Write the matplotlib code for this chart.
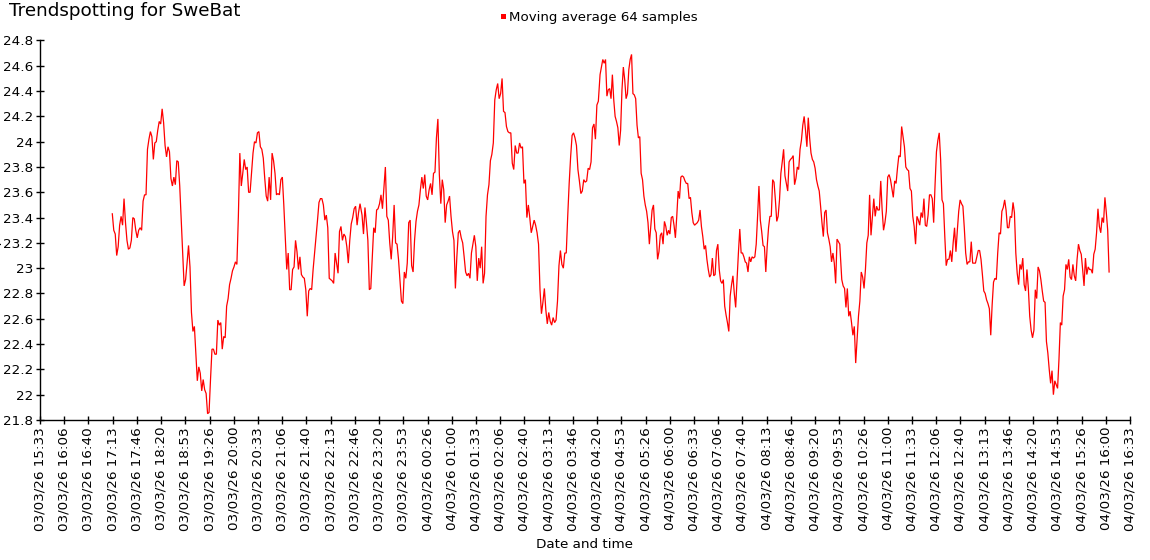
import numpy as np
import matplotlib
matplotlib.use("Agg")
import matplotlib.pyplot as plt
from matplotlib.patches import Rectangle
from matplotlib.ticker import FuncFormatter, MultipleLocator
from datetime import datetime, timedelta

# ---------------- data ----------------
title = "Trendspotting for SweBat"
series_name = "Moving average 64 samples"
x_label = "Date and time"
y_label = "Temperature"

axis_start = datetime(2026, 3, 3, 15, 33, 20)
tick_step_s = 2000
n_ticks = 46

# sample stretches (first sample time, last sample time), values evenly spaced in between
seg_a_times = ("2026-03-03 17:12:50", "2026-03-03 22:53:44")
seg_a_values = [
    23.43, 23.30, 23.27, 23.10, 23.17, 23.34, 23.41, 23.34, 23.55, 23.36, 23.22, 23.15, 23.16, 23.22,
    23.40, 23.39, 23.30, 23.24, 23.30, 23.32, 23.30, 23.53, 23.58, 23.58, 23.94, 24.02, 24.08, 24.04,
    23.86, 23.99, 24.00, 24.09, 24.16, 24.14, 24.26, 24.15, 23.97, 23.88, 23.96, 23.92, 23.71, 23.65,
    23.72, 23.66, 23.85, 23.84, 23.65, 23.38, 23.12, 22.86, 22.91, 23.04, 23.18, 23.01, 22.65, 22.50,
    22.54, 22.33, 22.11, 22.22, 22.17, 22.03, 22.12, 22.04, 22.01, 21.85, 21.86, 22.12, 22.36, 22.36,
    22.32, 22.32, 22.59, 22.55, 22.57, 22.36, 22.46, 22.45, 22.70, 22.76, 22.87, 22.92, 22.98, 23.01,
    23.05, 23.03, 23.41, 23.91, 23.65, 23.75, 23.86, 23.78, 23.80, 23.60, 23.60, 23.75, 23.91, 24.00,
    23.99, 24.07, 24.08, 23.96, 23.94, 23.87, 23.71, 23.57, 23.53, 23.72, 23.54, 23.91, 23.85, 23.75,
    23.58, 23.59, 23.58, 23.70, 23.72, 23.50, 23.25, 22.99, 23.12, 22.83, 22.83, 22.99, 23.01, 23.22,
    23.13, 22.99, 23.09, 22.95, 22.93, 22.92, 22.83, 22.62, 22.82, 22.84, 22.83, 22.99, 23.12, 23.25,
    23.38, 23.52, 23.55, 23.55, 23.50, 23.38, 23.42, 23.32, 22.92, 22.91, 22.90, 22.88, 23.12, 23.04,
    22.96, 23.29, 23.33, 23.22, 23.27, 23.25, 23.17, 23.04, 23.22, 23.35, 23.40, 23.47, 23.49, 23.34,
    23.44, 23.51,
]

seg_b_times = ("2026-03-03 22:56:30", "2026-03-04 04:21:42")
seg_b_values = [
    23.42, 23.27, 23.48, 23.36, 23.22, 22.83, 22.84, 23.08, 23.32, 23.28, 23.46, 23.47, 23.51, 23.58,
    23.47, 23.63, 23.80, 23.41, 23.38, 23.20, 23.07, 23.25, 23.50, 23.20, 23.19, 23.07, 22.91, 22.74,
    22.72, 22.97, 22.92, 23.04, 23.36, 23.38, 23.02, 22.97, 23.22, 23.37, 23.45, 23.50, 23.62, 23.72,
    23.63, 23.74, 23.57, 23.54, 23.62, 23.67, 23.58, 23.75, 23.76, 24.03, 24.18, 23.74, 23.51, 23.70,
    23.62, 23.36, 23.50, 23.53, 23.57, 23.41, 23.29, 23.22, 22.84, 23.09, 23.28, 23.30, 23.24, 23.20,
    23.09, 22.97, 22.94, 22.96, 22.92, 23.12, 23.19, 23.26, 23.17, 22.90, 23.08, 23.00, 23.17, 22.88,
    22.96, 23.41, 23.58, 23.66, 23.85, 23.90, 23.99, 24.33, 24.41, 24.46, 24.34, 24.38, 24.50, 24.24,
    24.23, 24.12, 24.08, 24.07, 24.07, 23.83, 23.78, 23.97, 23.91, 23.91, 23.99, 23.95, 23.96, 23.67,
    23.70, 23.40, 23.50, 23.40, 23.28, 23.33, 23.38, 23.34, 23.28, 23.19, 22.83, 22.64, 22.73, 22.84,
    22.67, 22.56, 22.65, 22.58, 22.55, 22.61, 22.57, 22.59, 22.74, 23.02, 23.14, 23.03, 23.00, 23.12,
    23.12, 23.41, 23.67, 23.88, 24.05, 24.07, 24.03, 23.97, 23.78, 23.69, 23.59, 23.61, 23.70, 23.68,
    23.69, 23.79, 23.78, 23.84, 24.11, 24.14, 24.02, 24.29, 24.32,
]

seg_c_times = ("2026-03-04 04:24:03", "2026-03-04 09:53:56")
seg_c_values = [
    24.53, 24.59, 24.65, 24.62, 24.65, 24.36, 24.41, 24.42, 24.34, 24.53, 24.33, 24.20, 24.16, 24.11,
    23.97, 24.09, 24.41, 24.59, 24.49, 24.34, 24.38, 24.57, 24.65, 24.69, 24.38, 24.37, 24.34, 24.13,
    24.03, 24.04, 23.75, 23.70, 23.57, 23.50, 23.45, 23.36, 23.19, 23.33, 23.46, 23.50, 23.31, 23.28,
    23.07, 23.13, 23.26, 23.28, 23.19, 23.37, 23.33, 23.26, 23.30, 23.27, 23.40, 23.41, 23.34, 23.24,
    23.41, 23.61, 23.55, 23.72, 23.73, 23.72, 23.69, 23.67, 23.67, 23.55, 23.56, 23.44, 23.36, 23.34,
    23.35, 23.36, 23.38, 23.46, 23.33, 23.25, 23.15, 23.18, 23.07, 22.99, 22.93, 22.95, 23.08, 22.94,
    22.95, 23.14, 23.19, 22.99, 22.90, 22.88, 22.91, 22.70, 22.63, 22.57, 22.50, 22.78, 22.87, 22.94,
    22.80, 22.69, 22.91, 23.12, 23.31, 23.12, 23.12, 23.09, 23.05, 23.04, 22.97, 23.09, 23.05, 23.09,
    23.08, 23.09, 23.19, 23.41, 23.65, 23.38, 23.29, 23.18, 23.17, 22.97, 23.17, 23.32, 23.41, 23.41,
    23.70, 23.68, 23.54, 23.37, 23.41, 23.54, 23.75, 23.84, 23.94, 23.73, 23.67, 23.61, 23.84, 23.86,
    23.87, 23.89, 23.66, 23.71, 23.80, 23.78, 23.94, 24.01, 24.13, 24.20, 24.09, 23.96, 24.19, 24.03,
    23.91, 23.86, 23.84, 23.79, 23.70, 23.65, 23.61, 23.49, 23.36, 23.25, 23.44, 23.46, 23.28, 23.23,
    23.17, 23.05, 23.12, 23.04, 22.88, 23.23, 23.21, 23.19,
]

seg_d_times = ("2026-03-04 09:56:41", "2026-03-04 16:04:34")
seg_d_values = [
    22.91, 22.86, 22.84, 22.69, 22.84, 22.62, 22.66, 22.57, 22.47, 22.54, 22.25, 22.44, 22.62, 22.74,
    22.97, 22.93, 22.84, 22.99, 23.20, 23.26, 23.58, 23.26, 23.41, 23.55, 23.41, 23.49, 23.46, 23.46,
    23.69, 23.46, 23.30, 23.36, 23.45, 23.72, 23.74, 23.70, 23.63, 23.56, 23.69, 23.67, 23.79, 23.89,
    23.88, 24.12, 24.04, 23.96, 23.80, 23.78, 23.77, 23.63, 23.61, 23.41, 23.33, 23.19, 23.41, 23.38,
    23.34, 23.44, 23.40, 23.55, 23.34, 23.33, 23.42, 23.58, 23.58, 23.55, 23.36, 23.66, 23.92, 24.01,
    24.07, 23.86, 23.54, 23.51, 23.25, 23.02, 23.07, 23.07, 23.14, 23.05, 23.20, 23.32, 23.13, 23.30,
    23.45, 23.54, 23.51, 23.49, 23.32, 23.12, 23.03, 23.05, 23.05, 23.21, 23.04, 23.04, 23.04, 23.09,
    23.14, 23.14, 23.07, 22.95, 22.82, 22.80, 22.75, 22.72, 22.68, 22.47, 22.71, 22.89, 22.92, 22.91,
    23.12, 23.28, 23.27, 23.45, 23.48, 23.54, 23.46, 23.32, 23.32, 23.41, 23.40, 23.52, 23.44, 23.12,
    22.96, 22.87, 23.03, 22.99, 23.08, 22.87, 22.82, 22.99, 22.84, 22.62, 22.51, 22.45, 22.51, 22.83,
    22.76, 23.01, 22.98, 22.91, 22.82, 22.74, 22.73, 22.42, 22.33, 22.20, 22.09, 22.19, 22.00, 22.11,
    22.08, 22.05, 22.28, 22.57, 22.55, 22.78, 22.83, 23.03, 22.99, 23.07, 22.93, 22.91, 23.03, 22.94,
    22.90, 23.07, 23.19, 23.14, 23.11, 22.99, 22.86, 23.08, 22.95, 23.01, 22.99, 22.99, 22.96, 23.11,
    23.15, 23.28, 23.47, 23.33, 23.28, 23.40, 23.36, 23.56, 23.44, 23.30, 22.97,
]

y_min, y_max, y_step = 21.8, 24.8, 0.2

# ---------------- build series ----------------
def secs(s):
    return (datetime.strptime(s, "%Y-%m-%d %H:%M:%S") - axis_start).total_seconds()

xs, ys = [], []
for (t0, t1), vals in [(seg_a_times, seg_a_values), (seg_b_times, seg_b_values),
                       (seg_c_times, seg_c_values), (seg_d_times, seg_d_values)]:
    xs.append(np.linspace(secs(t0), secs(t1), len(vals)))
    ys.append(np.asarray(vals))
x = np.concatenate(xs)
y = np.concatenate(ys)

# ---------------- figure ----------------
W, H = 1150, 560
fig = plt.figure(figsize=(W / 100, H / 100), dpi=100)
ax = fig.add_axes([40 / W, 140 / H, 1090 / W, 379.5 / H])

ax.plot(x, y, color="#ff0000", lw=0.9, solid_joinstyle="miter")

tick_pos = np.arange(n_ticks) * tick_step_s
ax.set_xlim(tick_pos[0], tick_pos[-1])
ax.set_ylim(y_min, y_max)
ax.set_xticks(tick_pos)
ax.set_xticklabels([(axis_start + timedelta(seconds=int(s))).strftime("%d/%m/%y %H:%M")
                    for s in tick_pos])
ax.yaxis.set_major_locator(MultipleLocator(y_step))
ax.yaxis.set_major_formatter(FuncFormatter(lambda v, p: f"{v:.1f}".rstrip("0").rstrip(".")))

for s in ("top", "right"):
    ax.spines[s].set_visible(False)
for s in ("left", "bottom"):
    ax.spines[s].set_linewidth(1.0)
    ax.spines[s].set_color("black")

ax.tick_params(axis="x", direction="inout", length=6, width=1, pad=2,
               labelrotation=90, labelsize=9.7, colors="black")
ax.tick_params(axis="y", direction="inout", length=6, width=1, pad=2,
               labelsize=9.7, colors="black")

# title, legend, axis labels
fig.text(9 / W, 1 - 16 / H, title, fontsize=13.2, ha="left", va="baseline")
fig.add_artist(Rectangle((500.7 / W, 1 - 18.5 / H), 5 / W, 5 / H,
                         transform=fig.transFigure, color="#ff0000", lw=0))
fig.text(509 / W, 1 - 21.5 / H, series_name, fontsize=9.6, ha="left", va="baseline")
fig.text(585 / W, 1 - 545 / H, x_label, fontsize=9.7, ha="center", va="center")
fig.text(2 / W, 1 - 230 / H, y_label, fontsize=9.7, rotation=90, ha="right", va="center")

fig.savefig("out.png", dpi=100)
